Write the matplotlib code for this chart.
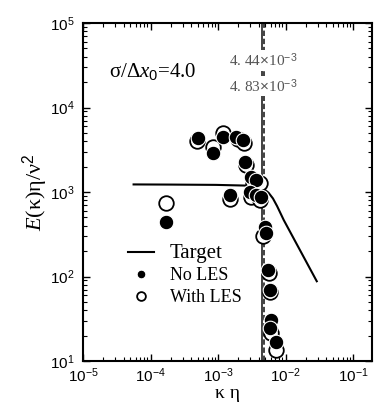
import numpy as np
import matplotlib
matplotlib.use('Agg')
import matplotlib.pyplot as plt

# target spectrum
target_k = [5.6e-5, 2e-4, 9.3e-4, 2.8e-3, 4.0e-3, 4.8e-3, 5.6e-3, 6.5e-3, 7.5e-3, 9.4e-3, 2.9e-2]
target_E = [1230, 1225, 1215, 1190, 1150, 1080, 980, 840, 680, 466, 88]

# simulation without LES
nles_k = [1.67e-4, 5.0e-4, 8.4e-4, 1.19e-3, 1.86e-3, 2.36e-3, 2.53e-3, 1.51e-3,
          3.11e-3, 3.69e-3, 3.0e-3, 3.69e-3, 4.38e-3, 5.03e-3, 5.2e-3,
          5.57e-3, 5.97e-3, 6.18e-3, 5.97e-3, 7.1e-3]
nles_E = [441, 4350, 2900, 4480, 4480, 4120, 2265, 920,
          1507, 1387, 1000, 920, 873, 385, 327,
          119, 69, 30.5, 24.5, 16.8]

# simulation with LES
les_k = [1.67e-4, 4.87e-4, 8.4e-4, 1.19e-3, 1.99e-3, 2.44e-3, 2.62e-3, 1.51e-3,
         3.33e-3, 4.24e-3, 3.11e-3, 4.24e-3, 4.7e-3, 5.77e-3, 5.97e-3,
         6.18e-3, 7.1e-3]
les_E = [741, 4020, 3410, 4990, 4240, 3800, 2090, 826,
         1280, 1280, 873, 804, 301, 110, 65.6,
         21.4, 13.5]

# cutoff wavenumbers
k_solid = 4.44e-3
k_dash = 4.83e-3

plt.rcParams['font.family'] = ['Liberation Sans', 'DejaVu Sans']
plt.rcParams['mathtext.fontset'] = 'custom'
plt.rcParams['mathtext.rm'] = 'Liberation Sans'
plt.rcParams['mathtext.it'] = 'Liberation Serif:italic'

fig = plt.figure(figsize=(3.76, 4.03), dpi=100)
ax = fig.add_axes([0.221, 0.104, 0.768, 0.839])

ax.axvline(k_solid, color='#333333', lw=1.3, ls='-', zorder=1)
ax.axvline(k_dash, color='#333333', lw=1.3, ls=(0, (3, 1.5)), zorder=1)

ax.plot(target_k, target_E, '-', color='black', lw=1.5, label='Target', zorder=2)
ax.plot(les_k, les_E, 'o', ms=10.5, mfc='white', mec='black', mew=1.3,
        label='With LES', zorder=3)
ax.plot(nles_k, nles_E, 'o', ms=10.5, mfc='black', mec='white', mew=0.8,
        label='No LES', zorder=4)

ax.set_xscale('log')
ax.set_yscale('log')
ax.set_xlim(1e-5, 0.19)
ax.set_ylim(10, 1e5)

ax.tick_params(which='both', direction='in', top=True, right=True, labelsize=11)
ax.tick_params(which='major', length=5, width=1)
ax.tick_params(axis='x', which='major', pad=4)
ax.tick_params(axis='y', which='major', pad=6)
ax.tick_params(which='minor', length=3, width=0.8)
for s in ax.spines.values():
    s.set_linewidth(1.5)

ax.set_xlabel('κ η', family='Liberation Serif', fontsize=14, labelpad=0)
ax.set_ylabel(r'$E$(κ)η/ν$^2$', family='Liberation Serif', fontsize=16, labelpad=0)

ax.text(0.09, 0.855, r'σ/Δ$x_0$=4.0', transform=ax.transAxes,
        family='Liberation Serif', fontsize=15, va='center')
ax.text(4.7e-3, 3.6e4, r'4. 44$\times$10$^{-3}$', ha='center', va='center',
        family='Liberation Serif', fontsize=11, color='#555555',
        bbox=dict(fc='white', ec='none', pad=1), zorder=5)
ax.text(4.7e-3, 1.8e4, r'4. 83$\times$10$^{-3}$', ha='center', va='center',
        family='Liberation Serif', fontsize=11, color='#555555',
        bbox=dict(fc='white', ec='none', pad=1), zorder=5)

h, l = ax.get_legend_handles_labels()
leg = ax.legend([h[0], h[2], h[1]], ['Target', 'No LES', 'With LES'],
                loc='lower left', bbox_to_anchor=(0.1, 0.115), frameon=False,
                markerscale=0.6, handlelength=1.4, handletextpad=0.9,
                labelspacing=0.25, prop={'family': 'Liberation Serif', 'size': 13})
leg.get_texts()[0].set_fontsize(15)

fig.savefig('out.png', dpi=100)
